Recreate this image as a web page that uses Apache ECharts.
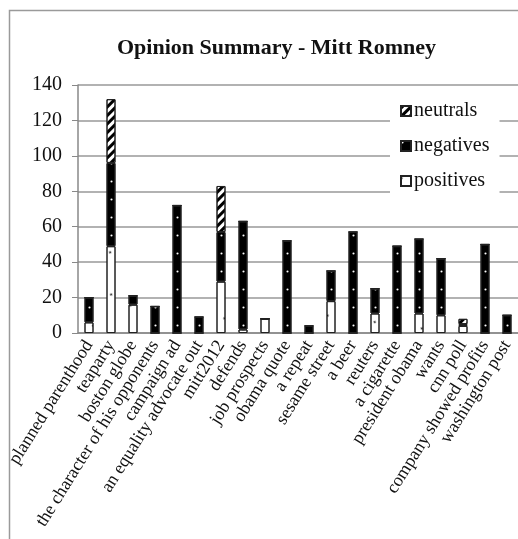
<!DOCTYPE html>
<html>
<head>
<meta charset="utf-8">
<script src="https://cdn.jsdelivr.net/npm/echarts@6/dist/echarts.min.js"></script>
<style>
  html, body { margin: 0; padding: 0; background: #fff; }
  #main { width: 518px; height: 539px; }
</style>
</head>
<body>
<div id="main"></div>
<script>
// categories (x axis)
var topics = ['planned parenthood', 'teaparty', 'boston globe', 'the character of his opponents',
    'campaign ad', 'an equality advocate out', 'mitt2012', 'defends', 'job prospects', 'obama quote',
    'a repeat', 'sesame street', 'a beer', 'reuters', 'a cigarette', 'president obama', 'wants',
    'cnn poll', 'company showed profits', 'washington post'];
// stacked counts
var positives = [6, 49, 16, 0, 0, 0, 29, 2, 8, 0, 0, 18, 0, 11, 0, 11, 10, 4, 0, 0];
var negatives = [14, 47, 5, 15, 72, 9, 28, 61, 0, 52, 4, 17, 57, 14, 49, 42, 32, 1, 50, 10];
var neutrals  = [0, 36, 0, 0, 0, 0, 26, 0, 0, 0, 0, 0, 0, 0, 0, 0, 0, 3, 0, 0];

var serif = '"Liberation Serif", "Times New Roman", serif';
var myChart = echarts.init(document.getElementById('main'));

function dots(col) {
    return { symbol: 'circle', symbolSize: 0.7, color: col, dashArrayX: [3, 19], dashArrayY: [3, 15] };
}

var option = {
    animation: false,
    aria: { enabled: true, decal: { show: true } },
    graphic: [{
        type: 'rect', silent: true,
        shape: { x: 9.5, y: 10.5, width: 700, height: 700 },
        style: { fill: 'none', stroke: '#9a9a9a', lineWidth: 1.5 }
    }],
    title: {
        text: 'Opinion Summary - Mitt Romney',
        left: 112, top: 32,
        textStyle: { fontFamily: serif, fontSize: 22, fontWeight: 'bold', color: '#111' }
    },
    legend: {
        orient: 'vertical',
        left: 390, top: 93,
        padding: [8, 10, 8, 10],
        itemGap: 15,
        itemWidth: 10, itemHeight: 10,
        icon: 'rect',
        backgroundColor: '#fff',
        data: ['neutrals', 'negatives', 'positives'],
        textStyle: { fontFamily: serif, fontSize: 20, color: '#111', padding: [0, 0, 0, -2] }
    },
    grid: { left: 78, right: 0, top: 85, height: 248 },
    xAxis: {
        type: 'category',
        data: topics,
        axisLine: { lineStyle: { color: '#888', width: 1.5 } },
        axisTick: { length: 5, lineStyle: { color: '#888' } },
        axisLabel: { rotate: 58, margin: 9, interval: 0, fontFamily: serif, fontSize: 18, color: '#111' }
    },
    yAxis: {
        type: 'value',
        min: 0, max: 140, interval: 20,
        axisLine: { show: true, lineStyle: { color: '#888', width: 1.5 } },
        axisTick: { show: true, length: 6, lineStyle: { color: '#888' } },
        axisLabel: { margin: 16, fontFamily: serif, fontSize: 20, color: '#111' },
        splitLine: { lineStyle: { color: '#999', width: 1.5 } }
    },
    series: [{
        name: 'positives', type: 'bar', stack: 'all', barWidth: 9,
        data: positives,
        itemStyle: { color: '#fff', borderColor: '#222', borderWidth: 1, decal: dots('#000') }
    }, {
        name: 'negatives', type: 'bar', stack: 'all', barWidth: 9,
        data: negatives,
        itemStyle: { color: '#000', borderColor: '#222', borderWidth: 1, decal: dots('#fff') }
    }, {
        name: 'neutrals', type: 'bar', stack: 'all', barWidth: 9,
        data: neutrals,
        itemStyle: {
            color: '#fff', borderColor: '#222', borderWidth: 1,
            decal: { symbol: 'rect', symbolSize: 1, color: '#000', dashArrayX: [1, 0], dashArrayY: [3, 3], rotation: -Math.PI / 4 }
        }
    }]
};
myChart.setOption(option);
</script>
</body>
</html>
